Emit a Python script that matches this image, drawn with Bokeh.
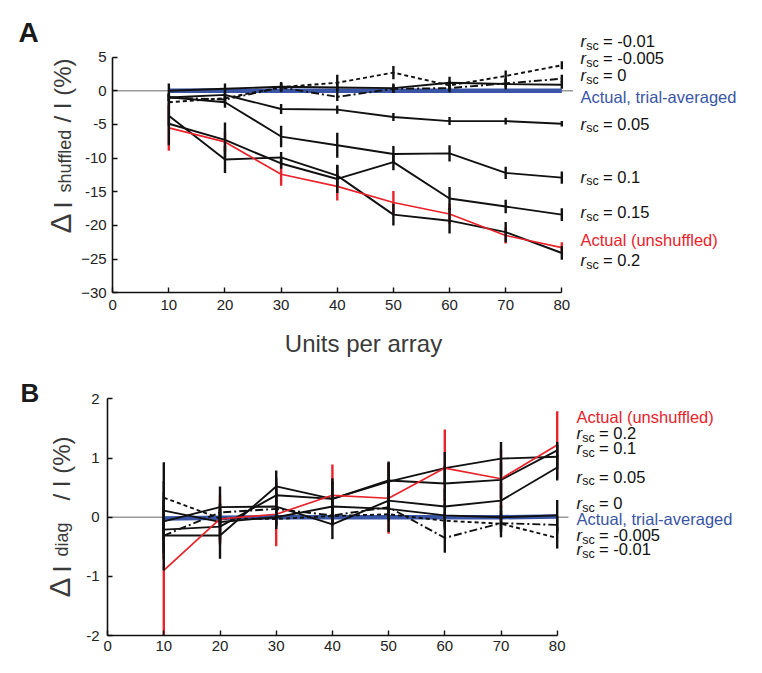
import numpy as np
from bokeh.plotting import figure
from bokeh.models import Label, FixedTicker, Range1d
from bokeh.layouts import column
from bokeh.embed import file_html
from bokeh.resources import INLINE

# ---------------- data ----------------
units = [10, 20, 30, 40, 50, 60, 70, 80]
x_ticks = [0, 10, 20, 30, 40, 50, 60, 70, 80]
zero_line_x = [0, 82]

# Panel A: Delta I_shuffled / I (%)
a_rsc_m001 = [-1.7, -1.1, 0.55, 1.2, 2.7, 0.8, 2.2, 3.8]
a_rsc_m001_err = [0.5, 0.5, 0.6, 1.2, 1.0, 0.7, 0.8, 0.6]
a_rsc_m0005 = [-1.0, -1.3, 0.5, -0.9, 0.3, 0.4, 1.1, 1.8]
a_rsc_m0005_err = [0.6, 0.6, 0.6, 0.6, 0.6, 0.6, 0.6, 0.6]
a_rsc_0 = [0.0, 0.3, 0.6, 0.5, 0.4, 1.2, 1.0, 0.9]
a_rsc_0_err = [1.1, 0.8, 0.7, 0.8, 0.7, 0.9, 0.8, 0.6]
a_rsc_005 = [-1.0, -0.6, -2.7, -2.8, -3.9, -4.5, -4.5, -4.9]
a_rsc_005_err = [0.5, 0.6, 0.75, 0.6, 0.6, 0.6, 0.5, 0.4]
a_rsc_01 = [-0.95, -1.7, -6.8, -8.1, -9.4, -9.3, -12.2, -12.9]
a_rsc_01_err = [0.6, 0.8, 1.6, 1.85, 1.2, 1.2, 0.9, 0.9]
a_rsc_015 = [-4.9, -7.3, -10.8, -13.1, -10.6, -16.0, -17.2, -18.4]
a_rsc_015_err = [3.2, 2.6, 0.8, 2.1, 1.2, 1.7, 1.0, 0.95]
a_rsc_02 = [-3.7, -10.2, -9.9, -12.6, -18.4, -19.3, -21.0, -24.1]
a_rsc_02_err = [1.5, 2.0, 0.8, 1.5, 1.6, 1.9, 1.5, 1.0]
a_actual = [-5.5, -7.6, -12.4, -14.2, -16.6, -18.3, -21.5, -23.3]
a_actual_err = [3.4, 1.5, 1.7, 2.1, 1.7, 1.5, 1.2, 0.8]
a_trial = [0.02, 0.03, 0.0, 0.0, 0.0, 0.01, 0.0, 0.0]
a_y_ticks = [-30, -25, -20, -15, -10, -5, 0, 5]
a_y_labels = ["\u221230", "\u221225", "-20", "-15", "-10", "-5", "0", "5"]
a_y_bounds = (-30, 5)

# Panel B: Delta I_diag / I (%)
b_rsc_m001 = [0.33, -0.02, -0.03, 0.02, 0.05, -0.06, -0.11, -0.35]
b_rsc_m001_err = [0.6, 0.15, 0.17, 0.15, 0.3, 0.15, 0.23, 0.18]
b_rsc_m0005 = [-0.31, 0.08, 0.14, 0.03, 0.17, -0.35, -0.10, -0.13]
b_rsc_m0005_err = [0.3, 0.15, 0.15, 0.15, 0.15, 0.25, 0.15, 0.15]
b_rsc_0 = [0.11, -0.08, 0.0, 0.18, 0.14, 0.03, 0.0, 0.03]
b_rsc_0_err = [0.5, 0.3, 0.15, 0.2, 0.2, 0.2, 0.2, 0.26]
b_rsc_005 = [-0.07, 0.17, 0.18, -0.12, 0.28, 0.18, 0.28, 0.84]
b_rsc_005_err = [0.5, 0.35, 0.3, 0.25, 0.3, 0.3, 0.3, 0.22]
b_rsc_01 = [-0.21, -0.16, 0.37, 0.31, 0.60, 0.83, 0.99, 1.02]
b_rsc_01_err = [0.5, 0.3, 0.3, 0.3, 0.34, 0.27, 0.28, 0.2]
b_rsc_02 = [-0.31, -0.31, 0.52, 0.31, 0.62, 0.57, 0.63, 1.13]
b_rsc_02_err = [0.59, 0.39, 0.27, 0.35, 0.3, 0.3, 0.3, 0.14]
b_actual = [-0.90, -0.03, 0.05, 0.37, 0.32, 0.83, 0.65, 1.22]
b_actual_err = [1.1, 0.4, 0.54, 0.52, 0.6, 0.65, 0.5, 0.57]
b_trial = [-0.02, -0.01, 0.0, 0.0, 0.0, 0.0, 0.0, 0.01]
b_y_ticks = [-2, -1, 0, 1, 2]
b_y_labels = ["-2", "-1", "0", "1", "2"]
b_y_bounds = (-2, 2)

# right-hand labels: (kind, value text, row center in page px)
a_legend = [("r", "-0.01", 41), ("r", "-0.005", 58), ("r", "0", 75),
            ("blue", "Actual, trial-averaged", 96.5), ("r", "0.05", 123.5),
            ("r", "0.1", 176.7), ("r", "0.15", 212.3),
            ("red", "Actual (unshuffled)", 240), ("r", "0.2", 260)]
b_legend = [("red", "Actual (unshuffled)", 417.3), ("r", "0.2", 433.3),
            ("r", "0.1", 448.3), ("r", "0.05", 476.7), ("r", "0", 503.3),
            ("blue", "Actual, trial-averaged", 519.3), ("r", "-0.005", 535),
            ("r", "-0.01", 549.3)]

RED = "#e8232b"
BLUE = "#3a55a5"
BLACK = "#111111"
GRAY = "#999999"
TXT = "#3a3a3a"
FONT = "Liberation Sans"
DASHED = "4 3"
DASHDOT = "8 3 2 3"
W = 750
ORIGIN = 0      # page px where the canvas starts in the screenshot
BASE_K = 0.36   # baseline correction (fraction of font size)


def make_fig(h, xr, yr, x_axis_at, y_bounds, y_ticks, y_labels):
    p = figure(frame_width=W, frame_height=h, x_range=Range1d(*xr),
               y_range=Range1d(*yr), min_border=0, output_backend="svg",
               toolbar_location=None, title=None)
    p.outline_line_color = None
    p.xgrid.visible = False
    p.ygrid.visible = False
    p.background_fill_color = "white"
    p.border_fill_color = "white"
    for ax in (p.xaxis[0], p.yaxis[0]):
        ax.major_tick_in = 5
        ax.major_tick_out = 0
        ax.minor_tick_line_color = None
        ax.axis_line_width = 1.6
        ax.axis_line_color = BLACK
        ax.major_tick_line_width = 1.4
        ax.major_tick_line_color = BLACK
        ax.major_label_text_font = FONT
        ax.major_label_text_font_size = "15px"
        ax.major_label_text_color = "#222222"
    p.xaxis.fixed_location = x_axis_at
    p.xaxis.bounds = (0, 80)
    p.xaxis.ticker = FixedTicker(ticks=x_ticks)
    p.yaxis.fixed_location = 0
    p.yaxis.bounds = y_bounds
    p.yaxis.ticker = FixedTicker(ticks=y_ticks)
    p.yaxis.major_label_overrides = {t: l for t, l in zip(y_ticks, y_labels)}
    return p


def draw_panel(p, series, actual, actual_err, trial, ymin):
    ux = np.array(units, dtype=float)
    p.line(zero_line_x, [0, 0], line_color=GRAY, line_width=1.5)
    a = np.array(actual)
    ae = np.array(actual_err)
    p.segment(x0=ux, y0=np.maximum(a - ae, ymin), x1=ux, y1=a + ae,
              line_color=RED, line_width=2.4)
    p.line(units, trial, line_color=BLUE, line_width=4.5)
    for vals, errs, dash in series:
        p.line(units, vals, line_color=BLACK, line_width=1.9, line_dash=dash)
    p.line(units, actual, line_color=RED, line_width=1.7)
    for vals, errs, dash in series:
        v = np.array(vals)
        e = np.array(errs)
        p.segment(x0=ux, y0=np.maximum(v - e, ymin), x1=ux, y1=v + e,
                  line_color=BLACK, line_width=2.4)


def make_labeler(p, fx, fy):
    def add(px, py, text, size, color, style="normal", rotated=False,
            align="left", baseline="alphabetic"):
        if baseline == "alphabetic":
            if rotated:
                px = px - BASE_K * size
            else:
                py = py - BASE_K * size
        p.add_layout(Label(x=fx(px), y=fy(py), text=text, text_font=FONT,
                           text_font_size=f"{size}px", text_color=color,
                           text_font_style=style,
                           angle=(np.pi / 2 if rotated else 0.0),
                           text_align=align, text_baseline=baseline))
    return add


def legend_rows(add, rows, x0):
    for kind, txt, cy in rows:
        base = cy + 5.5
        if kind == "r":
            add(x0, base, "r", 16.5, BLACK, style="italic")
            add(x0 + 5.8, base + 3, "sc", 12.5, BLACK)
            add(x0 + 22.5, base, "= " + txt, 16.5, BLACK)
        else:
            add(x0, base, txt, 16.5, BLUE if kind == "blue" else RED)


# ---------------- panel A ----------------
A_H = 365
A_X0_PX, A_SX = 112.2, 5.614      # page px of x=0, px per unit
A_Y0_PX, A_SY = 90.3, 6.73        # page px of y=0, px per unit
A_TOP = ORIGIN
A_XR = (-(A_X0_PX - ORIGIN) / A_SX, -(A_X0_PX - ORIGIN) / A_SX + W / A_SX)
A_YR = ((A_Y0_PX - (A_TOP + A_H)) / A_SY, (A_Y0_PX - A_TOP) / A_SY)

pA = make_fig(A_H, A_XR, A_YR, a_y_bounds[0], a_y_bounds, a_y_ticks, a_y_labels)
pA.xaxis.major_label_standoff = 7
pA.yaxis.major_label_standoff = 6

draw_panel(pA, [(a_rsc_m001, a_rsc_m001_err, DASHED),
                (a_rsc_m0005, a_rsc_m0005_err, DASHDOT),
                (a_rsc_0, a_rsc_0_err, "solid"),
                (a_rsc_005, a_rsc_005_err, "solid"),
                (a_rsc_01, a_rsc_01_err, "solid"),
                (a_rsc_015, a_rsc_015_err, "solid"),
                (a_rsc_02, a_rsc_02_err, "solid")],
           a_actual, a_actual_err, a_trial, a_y_bounds[0])

addA = make_labeler(pA, lambda px: (px - A_X0_PX) / A_SX,
                    lambda py: (A_Y0_PX - py) / A_SY)
legend_rows(addA, a_legend, 580)
addA(363, 343, "Units per array", 24, TXT, align="center", baseline="middle")
addA(18, 42, "A", 28, "#1a1a1a", style="bold")
addA(71, 233, "\u0394", 30, TXT, rotated=True)
addA(71, 208, "I", 25, TXT, rotated=True)
addA(70.5, 192, "shuffled", 18, TXT, rotated=True)
addA(71, 122, "/ I (%)", 24, TXT, rotated=True)

# ---------------- panel B ----------------
B_H = 298
B_X0_PX, B_SX = 107.1, 5.62
B_Y0_PX, B_SY = 516.7, 59.2
B_TOP = A_TOP + A_H
B_XR = (-(B_X0_PX - ORIGIN) / B_SX, -(B_X0_PX - ORIGIN) / B_SX + W / B_SX)
B_YR = ((B_Y0_PX - (B_TOP + B_H)) / B_SY, (B_Y0_PX - B_TOP) / B_SY)

pB = make_fig(B_H, B_XR, B_YR, b_y_bounds[0], b_y_bounds, b_y_ticks, b_y_labels)
pB.xaxis.major_label_standoff = 5
pB.yaxis.major_label_standoff = 8

draw_panel(pB, [(b_rsc_m001, b_rsc_m001_err, DASHED),
                (b_rsc_m0005, b_rsc_m0005_err, DASHDOT),
                (b_rsc_0, b_rsc_0_err, "solid"),
                (b_rsc_005, b_rsc_005_err, "solid"),
                (b_rsc_01, b_rsc_01_err, "solid"),
                (b_rsc_02, b_rsc_02_err, "solid")],
           b_actual, b_actual_err, b_trial, b_y_bounds[0])

addB = make_labeler(pB, lambda px: (px - B_X0_PX) / B_SX,
                    lambda py: (B_Y0_PX - py) / B_SY)
legend_rows(addB, b_legend, 576)
addB(20, 402, "B", 26, "#1a1a1a", style="bold")
addB(70, 597, "\u0394", 30, TXT, rotated=True)
addB(70, 572, "I", 25, TXT, rotated=True)
addB(68, 556, "diag", 18, TXT, rotated=True)
addB(70, 500, "/ I (%)", 24, TXT, rotated=True)

layout = column(pA, pB)
open("out.html", "w").write(file_html(layout, INLINE))
